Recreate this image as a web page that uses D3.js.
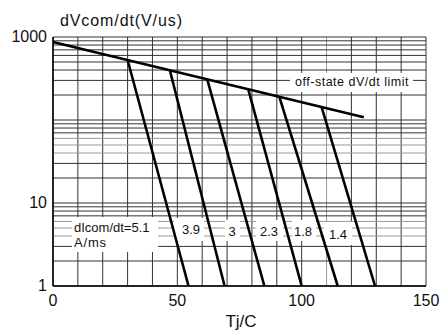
<!DOCTYPE html>
<html>
<head>
<meta charset="utf-8">
<script src="https://cdn.jsdelivr.net/npm/d3@7"></script>
<style>
  html, body { margin: 0; padding: 0; background: #fff; }
  svg { display: block; font-family: "Liberation Sans", Arial, sans-serif; }
</style>
</head>
<body>
<svg id="chart" width="440" height="334"></svg>
<script>
// ---- data ----
const xTicks = [0, 50, 100, 150];
const yTickLabels = [1, 10, 1000];
const limitT = [0, 125];
const limitV = [870, 108];
const curveLabels = ["5.1", "3.9", "3", "2.3", "1.8", "1.4"];
const curveTopT = [30, 47, 62, 78.5, 91, 108];
const curveTopV = [528, 398, 310, 236, 191, 144];
const curveBottomT = [54.5, 69, 85, 100, 114.5, 129.5];
const curveBottomV = [1, 1, 1, 1, 1, 1];

(function () {
// ---- layout ----
const svg = d3.select("#chart");
const pL = 53, pR = 426, pT = 37, pB = 286;
const x = d3.scaleLinear().domain([0, 150]).range([pL, pR]);
const y = d3.scaleLog().domain([1, 1000]).range([pB, pT]);

// grid
const g = svg.append("g");
const vLines = d3.range(0, 151, 10);
g.selectAll("line.v").data(vLines).enter().append("line")
  .attr("x1", d => x(d)).attr("x2", d => x(d))
  .attr("y1", pT).attr("y2", pB)
  .attr("stroke", d => (d === 110 ? "#999" : "#333")).attr("stroke-width", 1);

const hVals = [];
[1, 10, 100].forEach(dec => { for (let k = 1; k <= 9; k++) hVals.push(dec * k); });
hVals.push(1000);
g.selectAll("line.h").data(hVals).enter().append("line")
  .attr("x1", pL).attr("x2", pR)
  .attr("y1", d => y(d)).attr("y2", d => y(d))
  .attr("stroke", d => {
    const m = d / Math.pow(10, Math.floor(Math.log10(d) + 1e-9));
    return (m >= 4 && m <= 6 && d < 100) ? "#999" : "#333";
  })
  .attr("stroke-width", 1);

// axes frame
g.append("line").attr("x1", pL).attr("x2", pL).attr("y1", pT).attr("y2", pB)
  .attr("stroke", "#000").attr("stroke-width", 1.5);
g.append("line").attr("x1", pL).attr("x2", pR).attr("y1", pB).attr("y2", pB)
  .attr("stroke", "#000").attr("stroke-width", 1.5);

// white label boxes (annotation backgrounds)
function box(x0, x1, y0, y1) {
  svg.append("rect").attr("x", x0).attr("y", y0)
    .attr("width", x1 - x0).attr("height", y1 - y0).attr("fill", "#fff");
}
box(72, 158, 217, 252);          // dIcom/dt label
box(290, 413, 73, 92);           // off-state label
const numBoxes = [[174, 204, 218, 241], [225, 240, 220, 241], [256, 283, 220, 241],
                  [292, 316, 220, 241], [324, 352, 222, 245]];
numBoxes.forEach(b => box(b[0], b[1], b[2], b[3]));

// off-state limit line
const line = d3.line().x(d => x(d[0])).y(d => y(d[1]));
svg.append("path")
  .datum(limitT.map((t, i) => [t, limitV[i]]))
  .attr("d", line).attr("fill", "none").attr("stroke", "#000").attr("stroke-width", 2.6);

// dIcom/dt curves
curveLabels.forEach((lab, i) => {
  svg.append("path")
    .datum([[curveTopT[i], curveTopV[i]], [curveBottomT[i], curveBottomV[i]]])
    .attr("d", line).attr("fill", "none").attr("stroke", "#000").attr("stroke-width", 2.6);
});

// texts
const txt = (s, px, py, size, anchor, ls) => svg.append("text")
  .attr("x", px).attr("y", py).attr("font-size", size)
  .attr("text-anchor", anchor || "start")
  .attr("dominant-baseline", "central")
  .attr("letter-spacing", ls || 0)
  .attr("fill", "#111").text(s);

// title
txt("dVcom/dt(V/us)", 60, 20, 16, "start", 0.9);
// y tick labels
yTickLabels.forEach(v => txt(String(v), 47, y(v) - 1, 16, "end"));
// x tick labels
xTicks.forEach(v => txt(String(v), x(v), 300, 16, "middle"));
// x title
txt("Tj/C", 241, 321, 17, "middle");

// annotations
txt("off-state dV/dt limit", 352, 82, 12.5, "middle", 0.5);
txt("dIcom/dt=5.1", 74, 227, 13, "start");
txt("A/ms", 74, 242, 13, "start", 0.8);
const numPos = [null, [191, 229], [232, 231], [269, 231], [303, 231], [338, 234]];
curveLabels.forEach((lab, i) => {
  if (i === 0) return;
  txt(lab, numPos[i][0], numPos[i][1], 13, "middle");
});
})();
</script>
</body>
</html>
